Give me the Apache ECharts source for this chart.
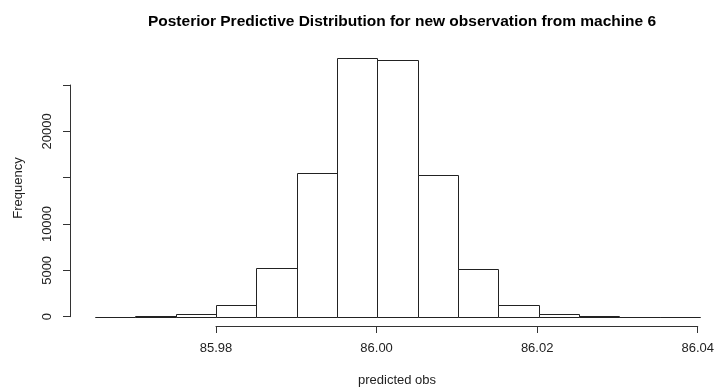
<!DOCTYPE html>
<html>
<head>
<meta charset="utf-8">
<script src="https://cdn.jsdelivr.net/npm/echarts@6/dist/echarts.min.js"></script>
<style>html,body{margin:0;padding:0;background:#fff;}#c{width:717px;height:389px;}</style>
</head>
<body>
<div id="c"></div>
<script>
// Histogram bin edges (predicted obs) and counts per bin
var binEdges = [85.965, 85.970, 85.975, 85.980, 85.985, 85.990, 85.995, 86.000,
                86.005, 86.010, 86.015, 86.020, 86.025, 86.030, 86.035, 86.040];
var counts = [3, 60, 300, 1220, 5260, 15480, 27950, 27720, 15340, 5150, 1220, 330, 60, 5, 0];
var xTicks = ['85.98', '86.00', '86.02', '86.04'];
var yTickLabels = ['0', '5000', '10000', '20000'];

var titleText = 'Posterior Predictive Distribution for new observation from machine 6';
var xName = 'predicted obs';
var yName = 'Frequency';

var FONT = 'Liberation Sans, Arial, sans-serif';
var INK = '#222';

var histData = counts.map(function (c, i) { return [binEdges[i], binEdges[i + 1], c]; });

var chart = echarts.init(document.getElementById('c'), null, {renderer: 'canvas'});
chart.setOption({
  animation: false,
  backgroundColor: '#fff',
  title: {
    text: titleText, left: 397, top: 9, textAlign: 'center',
    textStyle: {fontFamily: FONT, fontSize: 15.5, fontWeight: 'bold', color: '#000'}
  },
  graphic: [
    {type: 'text', x: 397, y: 380,
     style: {text: xName, font: '13px ' + FONT, fill: INK, textAlign: 'center', textVerticalAlign: 'middle'}},
    {type: 'text', x: 18, y: 188, rotation: Math.PI / 2,
     style: {text: yName, font: '13px ' + FONT, fill: INK, textAlign: 'center', textVerticalAlign: 'middle'}}
  ],
  grid: [
    {left: 70, right: 17, top: 38.7, bottom: 72.3},
    {left: 216, right: 17, bottom: 63, height: 10},
    {left: 70, top: 85, bottom: 72.3, width: 10}
  ],
  xAxis: [
    {gridIndex: 0, type: 'value', min: 85.9619, max: 86.04, show: false},
    {gridIndex: 1, type: 'value', min: 85.98, max: 86.04, interval: 0.02,
     axisLine: {show: true, lineStyle: {color: '#333', width: 1}},
     axisTick: {show: true, length: 7, lineStyle: {color: '#333'}},
     splitLine: {show: false},
     axisLabel: {margin: 16, color: INK, fontFamily: FONT, fontSize: 13,
       formatter: function (v) { var s = v.toFixed(2); return xTicks.indexOf(s) >= 0 ? s : ''; }}
    },
    {gridIndex: 2, type: 'value', show: false}
  ],
  yAxis: [
    {gridIndex: 0, type: 'value', min: 0, max: 30000, show: false},
    {gridIndex: 1, type: 'value', show: false},
    {gridIndex: 2, type: 'value', min: 0, max: 25000, interval: 5000, position: 'left',
     axisLine: {show: true, lineStyle: {color: '#333', width: 1}},
     axisTick: {show: true, length: 7, lineStyle: {color: '#333'}},
     splitLine: {show: false},
     axisLabel: {rotate: 90, margin: 16, color: INK, fontFamily: FONT, fontSize: 13,
       formatter: function (v) { var s = String(v); return yTickLabels.indexOf(s) >= 0 ? s : ''; }}
    }
  ],
  series: [{
    type: 'custom',
    xAxisIndex: 0, yAxisIndex: 0,
    data: histData,
    renderItem: function (params, api) {
      var p0 = api.coord([api.value(0), api.value(2)]);
      var p1 = api.coord([api.value(1), 0]);
      var x0 = Math.round(p0[0]) + 0.5, x1 = Math.round(p1[0]) + 0.5;
      var y0 = Math.round(p0[1]) + 0.5, y1 = Math.round(p1[1]) + 0.5;
      return {
        type: 'rect',
        shape: {x: x0, y: y0, width: x1 - x0, height: y1 - y0},
        style: {fill: '#fff', stroke: '#222', lineWidth: 1}
      };
    }
  }]
});
</script>
</body>
</html>
